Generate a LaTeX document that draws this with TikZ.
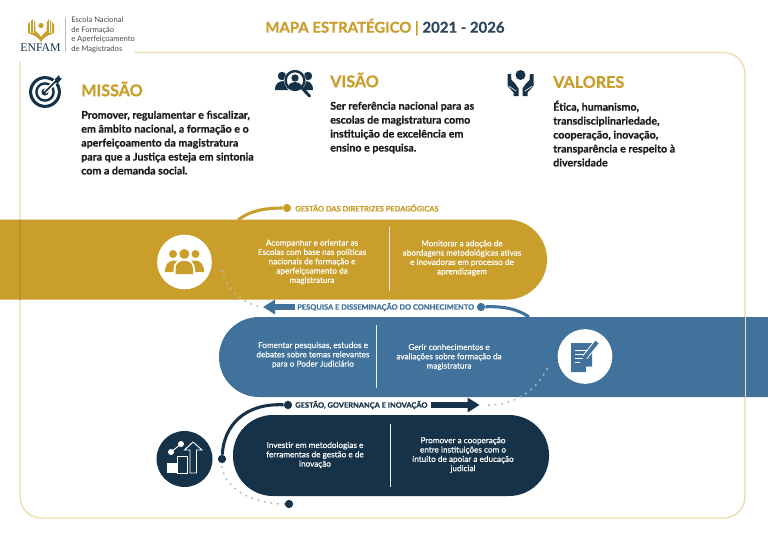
\documentclass[tikz,border=0pt]{standalone}
\usepackage{fontspec}
\setmainfont{Lato}[BoldFeatures={FakeBold=0.7}]
\newfontfamily\logofont{Liberation Serif}
\newfontfamily\bandfont[FakeBold=0.35]{Lato}
\usetikzlibrary{arrows.meta}
\definecolor{goldband}{HTML}{C99E2B}
\definecolor{blueband}{HTML}{41729B}
\definecolor{navyband}{HTML}{163248}
\definecolor{framegold}{HTML}{EFDDB0}
\definecolor{dotgrey}{HTML}{B4BAC1}
\definecolor{bodyink}{HTML}{1B1B1B}
\colorlet{titlenavy}{navyband!90!white}

\begin{document}
\begin{tikzpicture}[
  x=.75pt,y=-.75pt,
  head text/.style={font=\fontsize{12.1}{14}\bfseries,text=goldband,anchor=west,inner sep=0pt},
  body text/.style={font=\fontsize{8}{10.45}\bfseries,text=bodyink,align=left,anchor=north west,inner sep=0pt},
  band text/.style={font=\fontsize{6.15}{7}\bandfont,text=white,align=center,inner sep=0pt},
  line label/.style={font=\fontsize{5.6}{7}\bfseries,anchor=west,inner sep=0pt},
  logo text/.style={font=\fontsize{5.7}{7.1}\selectfont,text=bodyink!80,align=left,anchor=north west,inner sep=0pt},
  end dot/.style={circle,fill=#1,minimum size=6.2pt,inner sep=0pt},
  white disc/.style={circle,fill=white,minimum size=41pt,inner sep=0pt},
  navy disc/.style={circle,fill=navyband,minimum size=42pt,inner sep=0pt},
  dot line/.style={dotgrey,line width=1.7pt,line cap=round,dash pattern=on 0pt off 4.9pt},
  arc line/.style={line width=2.3pt,#1},
  fat arrow/.style={line width=5pt,#1,-{Triangle[length=9pt,width=10.5pt]}},
  frame line/.style={framegold,line width=1.1pt,rounded corners=16pt},
]
\useasboundingbox (0,0) rectangle (768,543);
\fill[white] (0,0) rectangle (768,543);

\coordinate (gdotend) at (222,271);
\coordinate (gmeet) at (238,220);
\coordinate (gdotstart) at (261,307);
\coordinate (bmeet) at (529,317);
\coordinate (bdotend) at (547,369);
\coordinate (bdotstart) at (488,405);
\coordinate (ndotend) at (222,467);

% frame and bands
\draw[frame line] (134,52.5) -- (745,52.5) -- (745,518) -- (20,518) -- (20,61);
\fill[goldband] (0,219.5) [rounded corners=30pt] -- (547,219.5) -- (547,299.5) [sharp corners] -- (0,299.5) -- cycle;
\fill[blueband] (768,317) [rounded corners=30pt] -- (219,317) -- (219,397) [sharp corners] -- (768,397) -- cycle;
\fill[navyband,rounded corners=30pt] (233,415) rectangle (549,496);
\draw[frame line,line width=.7pt] (745,317) -- (745,397);
\draw[goldband!92!black,line width=1.1pt] (20,219.5) -- (20,299.5);

\foreach \x/\ya/\yb in {389.5/227/291,376.7/325/388,390/424/487}
  \draw[white!75!dotgrey,line width=.6pt] (\x,\ya) -- (\x,\yb);

% title and logo
\node[font=\fontsize{11.2}{12}\bfseries,inner sep=0pt] (title) at (385,27)
  {\textcolor{goldband}{MAPA ESTRATÉGICO | }\textcolor{titlenavy}{2021 - 2026}};
\node[font=\fontsize{8.8}{10}\logofont,text=navyband,inner sep=0pt] (enfam) at (40.5,48) {ENFAM};
\node[logo text] (escola) at (71,17) {Escola Nacional\\de Formação\\e Aperfeiçoamento\\de Magistrados};
\draw[dotgrey,line width=.5pt] (65,18) -- (65,52);
\fill[goldband] (41,25.5) circle (2.6);
\foreach \s in {1,-1} {
\begin{scope}[xshift=41*.75pt,xscale=\s]
  \fill[goldband] (-13,24) -- (-8,19) -- (-6,22) -- (-5.5,31) .. controls (-3,33) and (-1,35) .. (0,37) -- (0,42) .. controls (-2,37) and (-8,35) .. (-13,33) -- cycle;
  \draw[white,line width=.4pt] (-10.5,22) -- (-10.5,33) (-8,20) -- (-8,33);
\end{scope}
}

% missao visao valores
\node[head text] (missao) at (81,89) {MISSÃO};
\node[body text] (missaotxt) at (81,110.5) {Promover, regulamentar e fiscalizar,\\em âmbito nacional, a formação e o\\aperfeiçoamento da magistratura\\para que a Justiça esteja em sintonia\\com a demanda social.};
\node[head text] (visao) at (330,80) {VISÃO};
\node[body text] (visaotxt) at (330,101.5) {Ser referência nacional para as\\escolas de magistratura como\\instituição de excelência em\\ensino e pesquisa.};
\node[head text] (valores) at (553,82) {VALORES};
\node[body text] (valorestxt) at (553,100.5) {Ética, humanismo,\\transdisciplinariedade,\\cooperação, inovação,\\transparência e respeito à\\diversidade};

% target
\begin{scope}[navyband]
  \draw[line width=2.3pt] (45,92) circle (14.4);
  \draw[line width=1.8pt] (45,92) circle (8.6);
  \fill (45,92) circle (3.6);
  \draw[line width=3.2pt,white] (45,92) -- (58,79);
  \draw[line width=1.1pt] (45,92) -- (57,80);
  \fill (55,79) -- (59,75) -- (60,78) -- (62,78.5) -- (58,83) -- (55,82.5) -- cycle;
\end{scope}

% people and magnifier
\begin{scope}[navyband]
  \fill (282,76) circle (4.2);
  \fill (308,76) circle (4.2);
  \fill (275,90) .. controls (275,83) and (279,81) .. (285,81) -- (288,90) -- cycle;
  \fill (313,90) .. controls (313,83) and (309,81) .. (305,81) -- (303,90) -- cycle;
  \fill[white] (295,80.5) circle (11);
  \draw[line width=1.8pt] (295,80.5) circle (9.4);
  \fill (295,78) circle (3.7);
  \fill (288.5,87) .. controls (289,83) and (292,82) .. (295,82) .. controls (298,82) and (301,83) .. (301.5,87) -- (298,89) -- (292,89) -- cycle;
  \draw[line width=2.2pt,line cap=round] (302,88) -- (309.5,96);
\end{scope}

% hands
\begin{scope}[navyband]
  \fill (520.5,75) circle (5);
  \foreach \s in {1,-1} {
  \begin{scope}[xshift=520.5*.75pt,xscale=\s]
    \fill (-13,74) -- (-9.5,74) -- (-9,80) -- (-5.5,83.5) -- (-2,88.5) -- (-2,96) -- (-7,96) -- (-7,92.5) -- (-13,86) -- cycle;
    \draw[white,line width=.45pt] (-12,86) -- (-4.5,91);
  \end{scope}
  }
\end{scope}

% connectors behind the labels
\node[end dot=goldband] (gdot) at (287,208) {};
\node[end dot=blueband] (bdot) at (481,307) {};
\node[end dot=navyband] (ndot) at (288,405) {};
\node[end dot=navyband] (ndotb) at (222,459) {};
\node[end dot=navyband] (ndotc) at (289,504) {};

\draw[arc line=goldband] (gdot) .. controls (262,208) and (248,212) .. (gmeet);
\draw[arc line=blueband] (bdot) .. controls (503,306) and (518,309) .. (bmeet);
\draw[arc line=navyband] (ndot) .. controls (245,403) and (224,425) .. (ndotb);
\draw[dot line] (gdotend) .. controls (226,287) and (240,303) .. (gdotstart);
\draw[dot line] (bdotend) .. controls (535,392) and (514,405) .. (bdotstart);
\draw[dot line] (ndotend) .. controls (225,490) and (255,504) .. (ndotc);

\node[line label,text=goldband] (gestaodir) at (295,208) {GESTÃO DAS DIRETRIZES PEDAGÓGICAS};
\node[line label,text=blueband] (pesquisa) at (297,307) {PESQUISA E DISSEMINAÇÃO DO CONHECIMENTO};
\node[line label,text=navyband] (gestaogov) at (295,405) {GESTÃO, GOVERNANÇA E INOVAÇÃO};
\draw[fat arrow=blueband] ([xshift=-1.5pt]pesquisa.west) -- ++(-32,0);
\draw[fat arrow=navyband] ([xshift=2.2pt]gestaogov.east) -- ++(49,0);

% band texts
\node[band text] (gtxta) at (312,262) {Acompanhar e orientar as\\Escolas com base nas políticas\\nacionais de formação e\\aperfeiçoamento da\\magistratura};
\node[band text] (gtxtb) at (462,258) {Monitorar a adoção de\\abordagens metodológicas ativas\\e inovadoras em processo de\\aprendizagem};
\node[band text] (btxta) at (313,355) {Fomentar pesquisas, estudos e\\debates sobre temas  relevantes\\para o Poder Judiciário};
\node[band text] (btxtb) at (449,357) {Gerir conhecimentos e\\avaliações sobre formação da\\magistratura};
\node[band text] (ntxta) at (315,455) {Investir em metodologias e\\ferramentas de gestão e de\\inovação};
\node[band text] (ntxtb) at (463,455) {Promover a cooperação\\entre instituições com o\\intuito de apoiar a educação\\judicial};

% discs
\node[white disc] (gdisc) at (184.5,262) {};
\node[white disc] (bdisc) at (585,356.5) {};
\node[navy disc] (ndisc) at (184.5,459) {};

% group icon
\begin{scope}[goldband]
  \fill (173,254) circle (4);
  \fill (195.5,254) circle (4);
  \fill (184.3,254) circle (5);
  \fill (165,272) .. controls (165,264) and (169,260.5) .. (174,260.5) .. controls (179,260.5) and (190,260.5) .. (195,260.5) .. controls (200,260.5) and (204,264) .. (204,272) -- cycle;
  \fill[white] (173.5,275.5) -- (173.5,269) .. controls (173.5,263) and (178,258.5) .. (184.3,258.5) .. controls (190.5,258.5) and (195,263) .. (195,269) -- (195,275.5) -- cycle;
  \fill (175.5,274) -- (175.5,269) .. controls (175.5,264) and (179,260.8) .. (184.3,260.8) .. controls (189.5,260.8) and (193,264) .. (193,269) -- (193,274) -- cycle;
\end{scope}

% document icon
\begin{scope}[blueband]
  \fill (571,343) -- (592,343) -- (592,366) -- (586,372) -- (571,372) -- cycle;
  \fill[white] (586,372) -- (586,366.5) -- (592,366.5) -- cycle;
  \draw[white,line width=.7pt] (575,350.5) -- (588,350.5);
  \draw[white,line width=.7pt] (575,354.5) -- (587,354.5);
  \draw[white,line width=.7pt] (575,358.5) -- (584,358.5);
  \draw[white,line width=.7pt] (575,362.5) -- (580,362.5);
  \draw[white,line width=4.4pt] (597,342) -- (585,357);
  \draw[line width=3pt] (597,342) -- (585.5,356.5);
  \fill (582.5,360) -- (584,354.5) -- (587.5,357.5) -- cycle;
\end{scope}

% chart icon
\begin{scope}[white,line width=.7pt]
  \fill (167,463) rectangle (177,473);
  \draw (177,456.5) rectangle (187,473);
  \draw (190,473) -- (190,450) -- (184.5,450) -- (193,442) -- (202,450) -- (196.5,450) -- (196.5,473) -- cycle;
  \fill (171,452) circle (3);
  \fill (181,444) circle (3);
  \draw (171,452) -- (181,444);
\end{scope}
\end{tikzpicture}
\end{document}
